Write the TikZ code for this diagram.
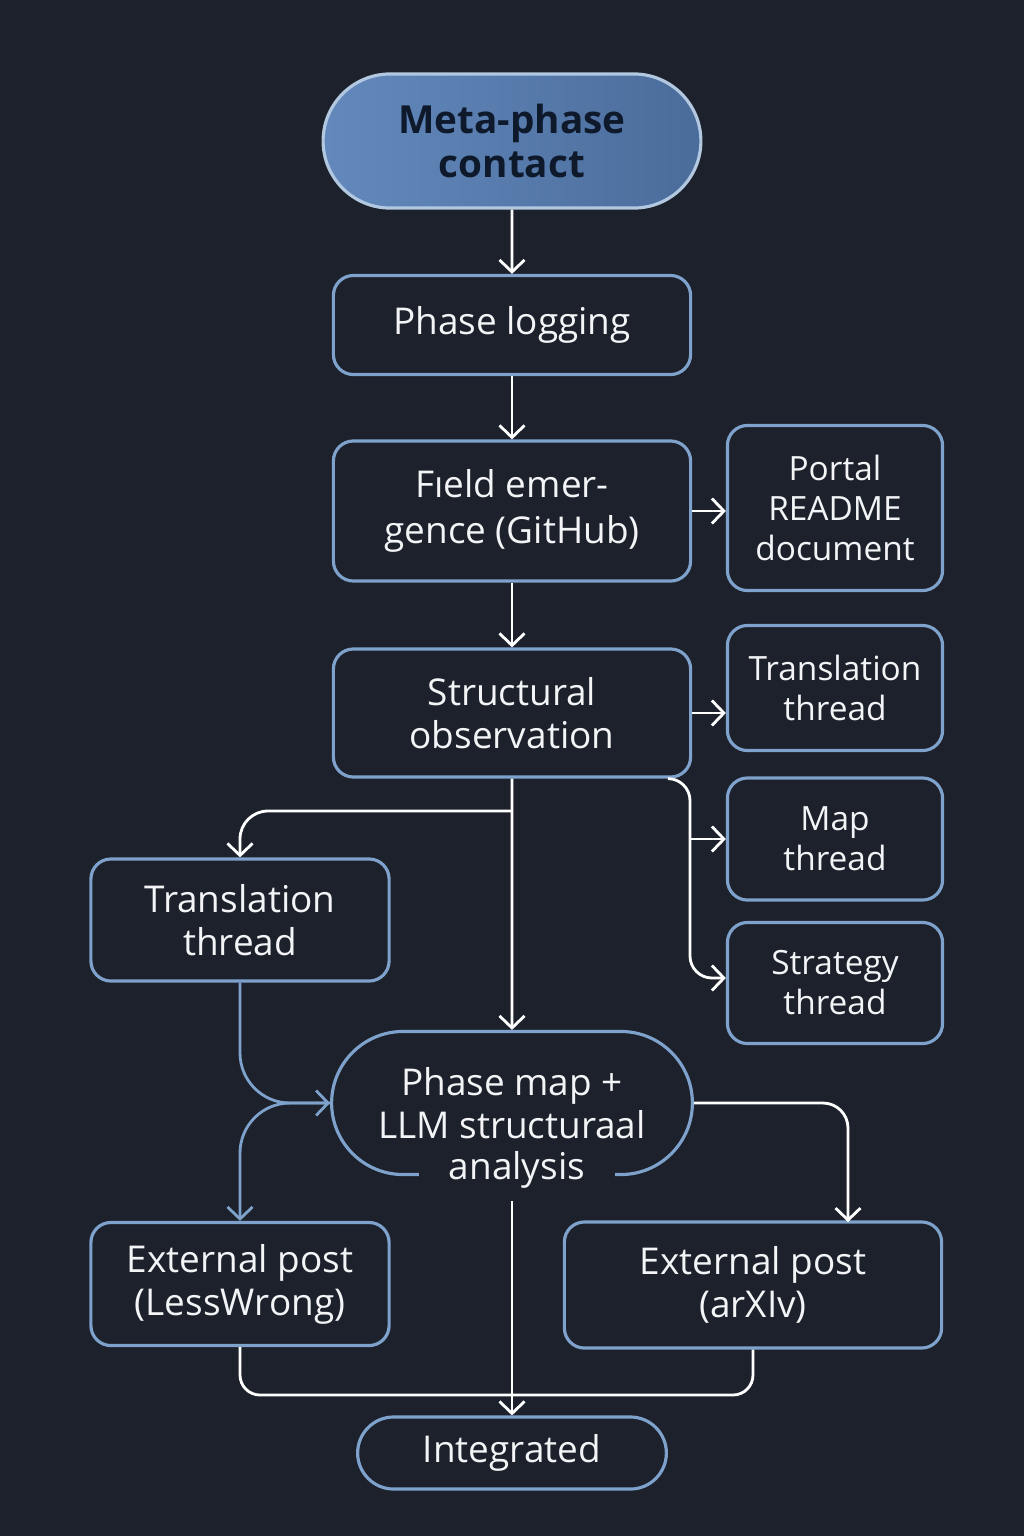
\documentclass[tikz,border=0pt]{standalone}
\usepackage{fontspec}
\setmainfont{Open Sans}
\usetikzlibrary{shapes.misc,arrows.meta,positioning}

\definecolor{bg}{HTML}{1C212B}
\definecolor{edge}{HTML}{7EA2CB}
\definecolor{metaL}{HTML}{6389BC}
\definecolor{metaR}{HTML}{4A6C9B}
\definecolor{metaink}{HTML}{0E1A2C}
\definecolor{ink}{HTML}{F3F4F6}

\begin{document}
\begin{tikzpicture}[x=0.01cm,y=-0.01cm,
  >={Straight Barb[length=1.2mm,width=2.5mm]},
  box/.style={draw=edge,line width=0.9pt,fill=bg,rounded corners=2mm,
    text=ink,align=center,font=\fontsize{10.5}{12.2}\selectfont},
  pill/.style={draw=edge,line width=0.9pt,fill=bg,rounded rectangle,
    text=ink,align=center,font=\fontsize{10.5}{12.2}\selectfont},
  side/.style={box,minimum width=21.5mm,font=\fontsize{9.5}{11.4}\selectfont},
  wire/.style={white,line width=0.8pt},
  bwire/.style={edge,line width=0.8pt}]

  % Background
  \fill[bg] (0,0) rectangle (1024,1536);
  \useasboundingbox (0,0) rectangle (1024,1536);

  % Main column
  \node[pill,minimum width=40.1mm,minimum height=13.4mm,draw=edge!60!white,
    left color=metaL,right color=metaR,text=metaink,
    font=\fontsize{11}{12.5}\selectfont\bfseries] (meta) at (512,141) {Meta-phase\\contact};
  \node[box,minimum width=35.7mm,minimum height=9.9mm] (plog) at (512,325) {Phase logging};
  \node[box,minimum width=35.7mm,minimum height=14mm,
    font=\fontsize{10.5}{13}\selectfont] (field) at (512,511) {Fıeld emer-\\gence (GitHub)};
  \node[box,minimum width=35.7mm,minimum height=12.8mm] (sobs) at (512,713) {Structural\\observation};
  \node[pill,minimum width=38.4mm,minimum height=14.3mm] (pmap) at (512,1103) {Phase map +\\LLM structuraal};
  \node[fill=bg,text=ink,inner xsep=3mm,inner ysep=1.2mm,
    font=\fontsize{10.5}{12.2}\selectfont] (pmapend) at (517,1170) {analysis};
  \node[pill,minimum width=33.2mm,minimum height=7.2mm] (integ) at (512,1453) {Integrated};

  % Side boxes
  \node[side,minimum height=16.5mm] (portal) at (835,508) {Portal\\README\\document};
  \node[side,minimum height=12.5mm] (trR) at (835,688) {Translation\\thread};
  \node[side,minimum height=12.2mm] (mapt) at (835,839) {Map\\thread};
  \node[side,minimum height=12.1mm] (strat) at (835,983) {Strategy\\thread};
  \node[box,minimum width=29.8mm,minimum height=12.2mm] (trL) at (240,920) {Translation\\thread};
  \node[box,minimum width=29.8mm,minimum height=12.3mm] (lw) at (240,1284) {External post\\(LessWrong)};
  \node[box,minimum width=37.7mm,minimum height=12.6mm] (arx) at (753,1285) {External post\\(arXIv)};

  % Junction points
  \coordinate (rbend) at (690,978);
  \coordinate (lsplit) at (512,811);
  \coordinate (axin) at (848,1222);
  \coordinate (merge) at (512,1395);

  % Connectors down the middle
  \draw[wire,->] (meta) -- (plog);
  \draw[wire,->] (plog) -- (field);
  \draw[wire,->] (field) -- (sobs);
  \draw[wire,->] (sobs) -- (pmap);
  \draw[wire,->] (integ.north |- pmapend.south) -- (integ.north);

  % Connectors to the side
  \draw[wire,->] (field.east) -- (field.east -| portal.west);
  \draw[wire,->] (sobs.east) -- (sobs.east -| trR.west);
  \draw[wire,->,rounded corners=2.2mm] ([xshift=-2.4mm]sobs.south east) -| (rbend) -- (rbend -| strat.west);
  \draw[wire,->] (rbend |- mapt.west) -- (mapt.west);
  \draw[wire,->,rounded corners=2.8mm] (lsplit) -| (trL.north);

  % Blue loop through the left column
  \draw[bwire,->,rounded corners=5mm] (trL.south) |- (pmap.west);
  \draw[bwire,->,rounded corners=5mm] (pmap.west) -| (lw.north);

  % Outputs
  \draw[wire,->,rounded corners=2.5mm] (pmap.east) -| (axin);
  \draw[wire,rounded corners=2mm] (lw.south) |- (merge);
  \draw[wire,rounded corners=2mm] (arx.south) |- (merge);
\end{tikzpicture}
\end{document}
